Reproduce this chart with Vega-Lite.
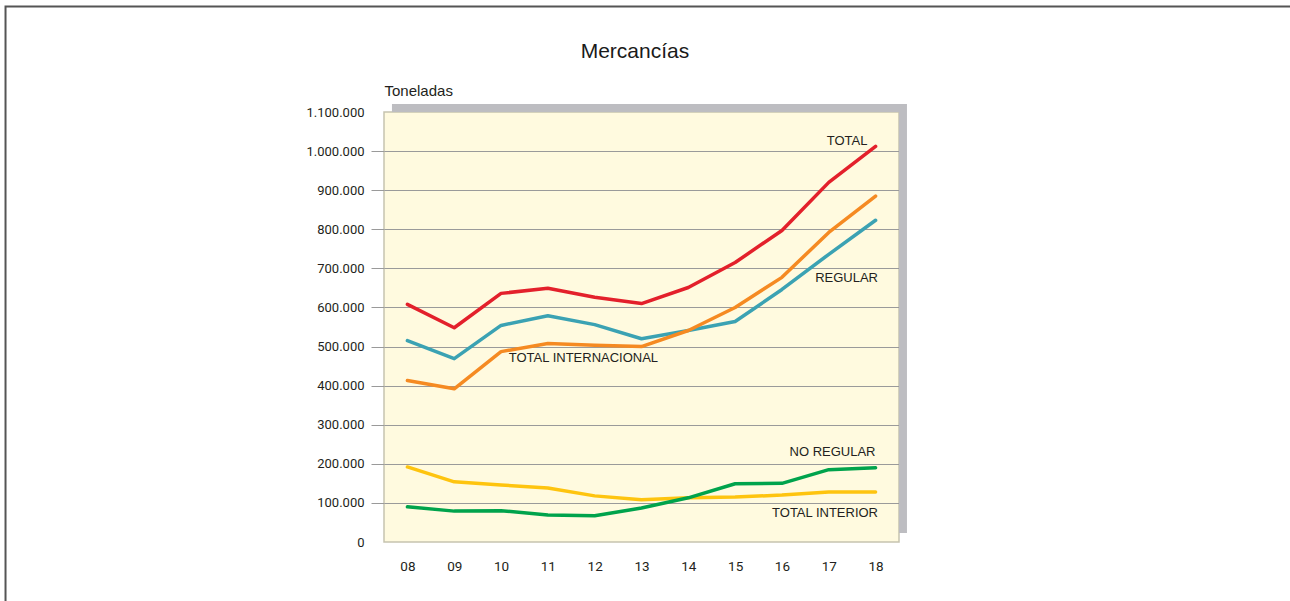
{
  "$schema": "https://vega.github.io/schema/vega-lite/v6.json",
  "width": 515,
  "height": 430,
  "autosize": "none",
  "padding": {"left": 384, "top": 112, "right": 391, "bottom": 59},
  "background": "white",
  "config": {
    "locale": {"number": {"decimal": ",", "thousands": ".", "grouping": [3], "currency": ["", " €"]}},
    "view": {"fill": "#fffadf", "stroke": "#c6c3b0", "strokeWidth": 1.5}
  },
  "datasets": {
    "series": [
      {"year": 8, "serie": "TOTAL", "value": 608000},
      {"year": 9, "serie": "TOTAL", "value": 548000},
      {"year": 10, "serie": "TOTAL", "value": 636000},
      {"year": 11, "serie": "TOTAL", "value": 649000},
      {"year": 12, "serie": "TOTAL", "value": 626000},
      {"year": 13, "serie": "TOTAL", "value": 610000},
      {"year": 14, "serie": "TOTAL", "value": 651000},
      {"year": 15, "serie": "TOTAL", "value": 715000},
      {"year": 16, "serie": "TOTAL", "value": 797000},
      {"year": 17, "serie": "TOTAL", "value": 920000},
      {"year": 18, "serie": "TOTAL", "value": 1012000},
      {"year": 8, "serie": "REGULAR", "value": 515000},
      {"year": 9, "serie": "REGULAR", "value": 469000},
      {"year": 10, "serie": "REGULAR", "value": 554000},
      {"year": 11, "serie": "REGULAR", "value": 579000},
      {"year": 12, "serie": "REGULAR", "value": 556000},
      {"year": 13, "serie": "REGULAR", "value": 520000},
      {"year": 14, "serie": "REGULAR", "value": 541000},
      {"year": 15, "serie": "REGULAR", "value": 564000},
      {"year": 16, "serie": "REGULAR", "value": 646000},
      {"year": 17, "serie": "REGULAR", "value": 736000},
      {"year": 18, "serie": "REGULAR", "value": 823000},
      {"year": 8, "serie": "TOTAL INTERNACIONAL", "value": 413000},
      {"year": 9, "serie": "TOTAL INTERNACIONAL", "value": 392000},
      {"year": 10, "serie": "TOTAL INTERNACIONAL", "value": 487000},
      {"year": 11, "serie": "TOTAL INTERNACIONAL", "value": 508000},
      {"year": 12, "serie": "TOTAL INTERNACIONAL", "value": 503000},
      {"year": 13, "serie": "TOTAL INTERNACIONAL", "value": 500000},
      {"year": 14, "serie": "TOTAL INTERNACIONAL", "value": 541000},
      {"year": 15, "serie": "TOTAL INTERNACIONAL", "value": 600000},
      {"year": 16, "serie": "TOTAL INTERNACIONAL", "value": 677000},
      {"year": 17, "serie": "TOTAL INTERNACIONAL", "value": 792000},
      {"year": 18, "serie": "TOTAL INTERNACIONAL", "value": 885000},
      {"year": 8, "serie": "TOTAL INTERIOR", "value": 192000},
      {"year": 9, "serie": "TOTAL INTERIOR", "value": 154000},
      {"year": 10, "serie": "TOTAL INTERIOR", "value": 146000},
      {"year": 11, "serie": "TOTAL INTERIOR", "value": 138000},
      {"year": 12, "serie": "TOTAL INTERIOR", "value": 118000},
      {"year": 13, "serie": "TOTAL INTERIOR", "value": 108000},
      {"year": 14, "serie": "TOTAL INTERIOR", "value": 113000},
      {"year": 15, "serie": "TOTAL INTERIOR", "value": 115000},
      {"year": 16, "serie": "TOTAL INTERIOR", "value": 120000},
      {"year": 17, "serie": "TOTAL INTERIOR", "value": 128000},
      {"year": 18, "serie": "TOTAL INTERIOR", "value": 128000},
      {"year": 8, "serie": "NO REGULAR", "value": 90000},
      {"year": 9, "serie": "NO REGULAR", "value": 79000},
      {"year": 10, "serie": "NO REGULAR", "value": 80000},
      {"year": 11, "serie": "NO REGULAR", "value": 69000},
      {"year": 12, "serie": "NO REGULAR", "value": 67000},
      {"year": 13, "serie": "NO REGULAR", "value": 87000},
      {"year": 14, "serie": "NO REGULAR", "value": 113000},
      {"year": 15, "serie": "NO REGULAR", "value": 149000},
      {"year": 16, "serie": "NO REGULAR", "value": 150000},
      {"year": 17, "serie": "NO REGULAR", "value": 185000},
      {"year": 18, "serie": "NO REGULAR", "value": 190000}
    ],
    "labels": [
      {"label": "TOTAL", "x": 17.39, "y": 1026000},
      {"label": "REGULAR", "x": 17.38, "y": 675000},
      {"label": "TOTAL INTERNACIONAL", "x": 11.76, "y": 471000},
      {"label": "NO REGULAR", "x": 17.08, "y": 230000},
      {"label": "TOTAL INTERIOR", "x": 16.92, "y": 74000}
    ]
  },
  "layer": [
    {
      "data": {"values": [{}]},
      "mark": {"type": "rect", "fill": null, "stroke": "#555555", "strokeWidth": 2},
      "encoding": {
        "x": {"datum": -0.584, "type": "quantitative"},
        "x2": {"datum": 30},
        "y": {"datum": 1369900, "type": "quantitative"},
        "y2": {"datum": -600000}
      }
    },
    {
      "data": {"values": [{"title": "Mercancías"}]},
      "mark": {"type": "text", "font": "Liberation Sans", "fontSize": 21, "baseline": "middle", "align": "center", "color": "#1a1a1a"},
      "encoding": {
        "x": {"datum": 12.86, "type": "quantitative"},
        "y": {"datum": 1253000, "type": "quantitative"},
        "text": {"field": "title"}
      }
    },
    {
      "data": {"values": [{}]},
      "mark": {"type": "rect", "fill": "#bdbdc1"},
      "encoding": {
        "x": {"datum": 7.67, "type": "quantitative"},
        "x2": {"datum": 18.67},
        "y": {"datum": 1100000, "type": "quantitative"},
        "y2": {"datum": 1120500}
      }
    },
    {
      "data": {"values": [{}]},
      "mark": {"type": "rect", "fill": "#bdbdc1"},
      "encoding": {
        "x": {"datum": 18.5, "type": "quantitative"},
        "x2": {"datum": 18.67},
        "y": {"datum": 23000, "type": "quantitative"},
        "y2": {"datum": 1100000}
      }
    },
    {
      "data": {"name": "series"},
      "mark": {"type": "line", "strokeWidth": 3.5, "strokeCap": "round", "strokeJoin": "round"},
      "encoding": {
        "x": {
          "field": "year", "type": "quantitative",
          "scale": {"domain": [7.5, 18.5], "nice": false, "zero": false},
          "axis": {
            "values": [8, 9, 10, 11, 12, 13, 14, 15, 16, 17, 18],
            "tickCount": 30,
            "format": "02d",
            "title": null, "grid": false, "ticks": false, "tickSize": 0, "domain": false,
            "labelPadding": 17, "labelFont": "Roboto", "labelFontSize": 13.5, "labelColor": "#231f20"
          }
        },
        "y": {
          "field": "value", "type": "quantitative",
          "scale": {"domain": [0, 1100000], "nice": false, "zero": true},
          "axis": {
            "values": [0, 100000, 200000, 300000, 400000, 500000, 600000, 700000, 800000, 900000, 1000000, 1100000],
            "tickCount": 30,
            "labelOverlap": false,
            "format": ",d",
            "domain": false,
            "grid": true,
            "gridColor": {"condition": {"test": "datum.value === 0 || datum.value === 1100000", "value": "transparent"}, "value": "#9a9a9a"},
            "gridWidth": 1,
            "ticks": true,
            "tickSize": 13,
            "tickColor": {"condition": {"test": "datum.value === 0 || datum.value === 1100000", "value": "transparent"}, "value": "#9a9a9a"},
            "labelPadding": 7,
            "labelFont": "Roboto", "labelFontSize": 13, "labelColor": "#231f20",
            "title": "Toneladas",
            "titleAngle": 0, "titleAlign": "left", "titleBaseline": "alphabetic",
            "titleX": 0, "titleY": -17,
            "titleFont": "Liberation Sans", "titleFontSize": 15, "titleFontWeight": "normal", "titleColor": "#231f20"
          }
        },
        "color": {
          "field": "serie", "type": "nominal",
          "scale": {
            "domain": ["TOTAL INTERIOR", "NO REGULAR", "TOTAL INTERNACIONAL", "REGULAR", "TOTAL"],
            "range": ["#fec40f", "#00a34c", "#f58a22", "#3ba2b3", "#e3202b"]
          },
          "legend": null
        },
        "order": {"field": "year", "type": "quantitative"}
      }
    },
    {
      "data": {"name": "labels"},
      "mark": {"type": "text", "font": "Liberation Sans", "fontSize": 13, "baseline": "middle", "align": "center", "color": "#231f20"},
      "encoding": {
        "x": {"field": "x", "type": "quantitative"},
        "y": {"field": "y", "type": "quantitative"},
        "text": {"field": "label"}
      }
    }
  ]
}
